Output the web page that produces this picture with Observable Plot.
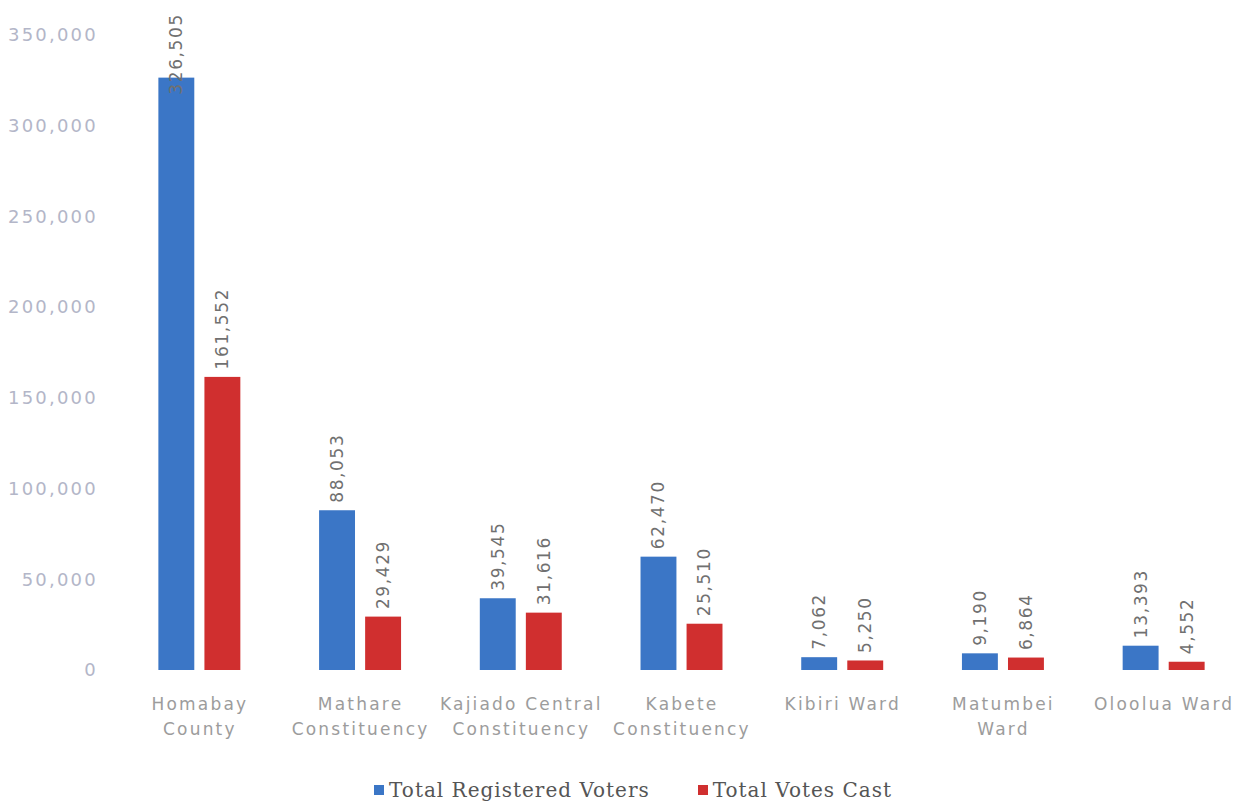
<!DOCTYPE html>
<html>
<head>
<meta charset="utf-8">
<script src="https://cdn.jsdelivr.net/npm/d3@7"></script>
<script src="https://cdn.jsdelivr.net/npm/@observablehq/plot@0.6"></script>
<style>
  html, body { margin: 0; padding: 0; background: #fff; }
  #chart { width: 1244px; }
  #chart svg [aria-label="y-axis tick label"] { letter-spacing: 2.2px; }
  #chart svg [aria-label="fx-axis tick label"] { letter-spacing: 2.2px; }
  #chart svg [aria-label="text"] { letter-spacing: 1.6px; }
  .legend { display: flex; justify-content: center; align-items: center; gap: 48px;
    height: 39px; padding-top: 10px; padding-left: 22px; box-sizing: border-box;
    font-family: "DejaVu Serif", "Liberation Serif", serif; font-size: 20px; letter-spacing: 1px; color: #555; }
  .legend .item { display: flex; align-items: center; gap: 5px; }
  .legend .sw { width: 10px; height: 10px; display: inline-block; }
</style>
</head>
<body>
<div id="chart"></div>
<script>
const categories = ["Homabay County", "Mathare Constituency", "Kajiado Central Constituency", "Kabete Constituency", "Kibiri Ward", "Matumbei Ward", "Oloolua Ward"];
const categoryLabels = ["Homabay\nCounty", "Mathare\nConstituency", "Kajiado Central\nConstituency", "Kabete\nConstituency", "Kibiri Ward", "Matumbei\nWard", "Oloolua Ward"];
const series = ["Total Registered Voters", "Total Votes Cast"];
const registeredVoters = [326505, 88053, 39545, 62470, 7062, 9190, 13393];
const votesCast = [161552, 29429, 31616, 25510, 5250, 6864, 4552];
const seriesColors = ["#3b76c6", "#d02f2f"];
const yTicks = [0, 50000, 100000, 150000, 200000, 250000, 300000, 350000];
const labelCap = 313000; // value labels that would run off the top are pulled down, as in the original

const data = [];
categories.forEach((c, i) => {
  data.push({category: c, series: series[0], value: registeredVoters[i]});
  data.push({category: c, series: series[1], value: votesCast[i]});
});
const fmt = d3.format(",");
const labelOf = new Map(categories.map((c, i) => [c, categoryLabels[i]]));

const plot = Plot.plot({
  width: 1244,
  height: 765,
  marginTop: 35,
  marginBottom: 95,
  marginLeft: 119,
  marginRight: 0,
  style: {fontFamily: "DejaVu Sans, sans-serif", background: "#fff"},
  fx: {domain: categories, paddingInner: 0.49, paddingOuter: 0.245, round: false, label: null, axis: null},
  x: {domain: series, paddingInner: 0.22, paddingOuter: 0, round: false, axis: null},
  y: {domain: [0, 350000], label: null, axis: null},
  color: {domain: series, range: seriesColors},
  marks: [
    Plot.axisY({ticks: yTicks, tickFormat: fmt, tickSize: 0, tickPadding: 61, fontSize: 18,
      fill: "#b3b6c8", label: null}),
    Plot.axisFx({anchor: "bottom", tickSize: 0, tickPadding: 22, fontSize: 17, lineHeight: 1.45, fill: "#9c9c9c",
      tickFormat: d => labelOf.get(d), label: null}),
    Plot.barY(data, {fx: "category", x: "series", y: "value", fill: "series"}),
    Plot.text(data, {fx: "category", x: "series", y: d => Math.min(d.value, labelCap),
      text: d => fmt(d.value), rotate: -90, textAnchor: "start", dy: -8,
      fontSize: 17, fill: "#707070"})
  ]
});
document.getElementById("chart").append(plot);

const legend = document.createElement("div");
legend.className = "legend";
series.forEach((s, i) => {
  const item = document.createElement("span");
  item.className = "item";
  const sw = document.createElement("span");
  sw.className = "sw";
  sw.style.background = seriesColors[i];
  const t = document.createElement("span");
  t.textContent = s;
  item.append(sw, t);
  legend.append(item);
});
document.getElementById("chart").append(legend);
</script>
</body>
</html>
